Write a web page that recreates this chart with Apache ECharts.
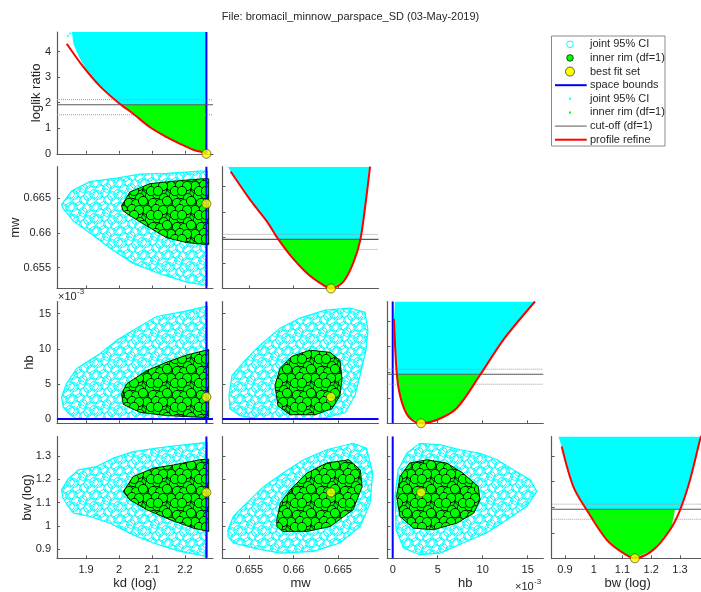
<!DOCTYPE html>
<html><head><meta charset="utf-8">
<script src="https://cdn.jsdelivr.net/npm/echarts@6/dist/echarts.min.js"></script>
<style>html,body{margin:0;padding:0;background:#fff}#c{width:701px;height:592px}</style>
</head><body><div id="c"></div><script>
// ---------------- data ----------------
const titleText = 'File: bromacil_minnow_parspace_SD (03-May-2019)';
const varLabels = {kd:'kd (log)', mw:'mw', hb:'hb', bw:'bw (log)', ll:'loglik ratio'};
// hb values are in units of 1e-3 (axis shows x10^-3)
const kdTicks = [1.9, 2.0, 2.1, 2.2];
const mwTicks = [0.655, 0.66, 0.665];
const hbTicks = [0, 5, 10, 15];
const bwTicks = [0.9, 1.0, 1.1, 1.2, 1.3];
const llTicks = [0, 1, 2, 3, 4];
const bestFit = [2.265, 0.6642, 3.15, 1.143];   // kd, mw, hb, bw
const kdBound = 2.265;                           // space bound (upper) on kd
const hbBound = 0;                               // space bound (lower) on hb
const cutoffSolid = [1.92];
const cutoffDotted = [2.12, 1.53];
// profile refine curves [param, loglik ratio]
const profKd = [[1.8415,4.31],[1.892,3.40],[1.942,2.65],[2.0,1.98],[2.043,1.57],[2.094,1.04],[2.145,0.65],[2.185,0.39],[2.225,0.16],[2.255,0.06],[2.265,0]];
const profMw = [[0.6529,4.58],[0.6551,3.47],[0.6570,2.62],[0.6581,2.01],[0.6596,1.31],[0.6615,0.60],[0.6633,0.14],[0.6642,0],[0.6656,0.27],[0.6667,0.99],[0.6675,1.90],[0.66805,3.21],[0.6686,4.77]];
const profHb = [[0.14,4.08],[0.37,2.35],[0.62,1.44],[1.18,0.65],[1.92,0.2],[3.15,0],[4.89,0.13],[7.11,0.59],[9.7,1.89],[12.29,3.27],[15.81,4.77]];
const profBw = [[0.8885,4.38],[0.9289,2.81],[0.9755,1.89],[1.045,0.72],[1.1028,0.2],[1.143,0],[1.207,0.33],[1.265,1.11],[1.300,1.89],[1.3348,3.07],[1.3696,4.64],[1.374,4.8]];
// dense sample regions on the diagonal panels (outlines)
const cyanKdLL = [[1.857,4.77],[2.265,4.77],[2.265,1.92],[2.006,1.92],[1.975,2.25],[1.942,2.65],[1.905,3.2],[1.88,3.75],[1.862,4.3]];
const greenKdLL = [[2.006,1.92],[2.265,1.92],[2.265,0.02],[2.255,0.06],[2.225,0.16],[2.185,0.39],[2.145,0.65],[2.094,1.04],[2.043,1.57]];
const strayKdLL = [[1.845,4.62],[1.852,4.71],[1.866,4.55],[1.872,4.72],[1.88,4.45]];
const cyanMwLL = [[0.6526,4.77],[0.6685,4.77],[0.66805,3.21],[0.6675,1.92],[0.6583,1.92],[0.6581,2.01],[0.6570,2.62],[0.6551,3.47],[0.6529,4.58]];
const greenMwLL = [[0.6583,1.92],[0.6675,1.92],[0.6667,0.99],[0.6656,0.27],[0.6642,0.01],[0.6633,0.14],[0.6615,0.60],[0.6596,1.31]];
const cyanHbLL = [[0.26,4.77],[15.81,4.77],[12.29,3.27],[9.72,1.92],[0.49,1.92],[0.37,2.35],[0.2,3.5],[0.14,4.08]];
const greenHbLL = [[0.49,1.92],[9.72,1.92],[7.11,0.59],[4.89,0.13],[3.15,0.01],[1.92,0.2],[1.18,0.65],[0.62,1.44]];
const cyanBwLL = [[0.877,4.77],[1.373,4.77],[1.3348,3.07],[1.300,1.92],[0.9755,1.92],[0.9289,2.81],[0.8885,4.38]];
const greenBwLL = [[0.9755,1.92],[1.283,1.92],[1.270,1.2],[1.265,1.11],[1.207,0.33],[1.143,0.01],[1.1028,0.2],[1.045,0.72]];
// joint 95% CI (cyan) and inner rim (green) sample clouds, outlines [x, y]
const cyanKdMw = [[1.826,0.6641],[1.857,0.6661],[1.912,0.6674],[1.993,0.6679],[2.064,0.6685],[2.145,0.6686],[2.245,0.6689],[2.268,0.6689],[2.268,0.6524],[2.205,0.6529],[2.124,0.6541],[2.043,0.6556],[1.973,0.6578],[1.912,0.6600],[1.862,0.6617],[1.831,0.6635]];
const greenKdMw = [[2.008,0.6639],[2.033,0.6659],[2.094,0.6671],[2.175,0.6675],[2.256,0.6678],[2.272,0.6678],[2.272,0.6583],[2.205,0.6586],[2.145,0.6593],[2.084,0.6610],[2.033,0.6625],[2.012,0.6632]];
const cyanKdHb = [[1.826,3.1],[1.84,5.0],[1.872,7.2],[1.942,9.3],[1.993,11.2],[2.043,12.65],[2.114,14.6],[2.195,15.3],[2.261,16.0],[2.268,16.0],[2.268,0],[1.872,0],[1.845,0.9],[1.831,1.7]];
const greenKdHb = [[2.008,3.6],[2.023,5.0],[2.084,6.9],[2.145,8.1],[2.205,9.1],[2.272,9.9],[2.272,0.2],[2.145,0.5],[2.064,0.95],[2.013,2.1]];
const cyanKdBw = [[1.826,1.154],[1.845,1.20],[1.877,1.240],[1.932,1.254],[1.983,1.290],[2.043,1.318],[2.114,1.333],[2.195,1.347],[2.261,1.357],[2.268,1.357],[2.268,0.868],[2.185,0.890],[2.104,0.926],[2.043,0.961],[1.973,1.011],[1.912,1.040],[1.862,1.054],[1.846,1.083],[1.83,1.12]];
const greenKdBw = [[2.013,1.147],[2.043,1.211],[2.104,1.247],[2.165,1.261],[2.245,1.283],[2.272,1.286],[2.272,0.976],[2.225,0.990],[2.155,1.026],[2.084,1.069],[2.033,1.111]];
const cyanMwHb = [[0.65271,3.34],[0.65305,6.2],[0.65452,8.35],[0.6562,10.5],[0.65846,12.94],[0.66071,14.37],[0.66353,15.5],[0.66634,15.8],[0.66803,15.2],[0.66837,12.6],[0.66814,9.8],[0.66747,6.2],[0.6669,3.34],[0.66578,0.9],[0.66296,0.04],[0.6562,0.04],[0.65395,0.47],[0.65282,1.48]];
const greenMwHb = [[0.65789,4.77],[0.65846,7.2],[0.65981,8.94],[0.66184,9.8],[0.66409,9.5],[0.66521,8.35],[0.66544,5.77],[0.66521,3.34],[0.66431,1.48],[0.6624,0.62],[0.65958,0.62],[0.65823,1.9]];
const cyanMwBw = [[0.6526,0.983],[0.6532,1.040],[0.6547,1.097],[0.6566,1.168],[0.6588,1.226],[0.6611,1.283],[0.6637,1.326],[0.6667,1.354],[0.6682,1.333],[0.6689,1.226],[0.6686,1.097],[0.6675,0.997],[0.6652,0.926],[0.6622,0.890],[0.6585,0.883],[0.6555,0.904],[0.6532,0.926],[0.6526,0.954]];
const greenMwBw = [[0.6581,1.026],[0.6585,1.097],[0.6596,1.154],[0.6615,1.226],[0.6637,1.269],[0.6662,1.283],[0.6675,1.240],[0.6677,1.168],[0.6667,1.069],[0.6641,0.997],[0.6615,0.976],[0.6588,0.976],[0.6581,0.997]];
const cyanHbBw = [[0.26,1.126],[0.6,1.240],[1.55,1.311],[3.0,1.354],[5.3,1.347],[7.5,1.326],[9.7,1.311],[11.6,1.283],[13.4,1.240],[15.3,1.197],[16.0,1.147],[14.9,1.083],[12.7,1.026],[10.4,0.969],[7.8,0.926],[5.3,0.883],[3.0,0.876],[1.2,0.904],[0.37,0.983]];
const greenHbBw = [[0.44,1.126],[0.81,1.211],[1.9,1.269],[3.8,1.283],[6.0,1.269],[7.8,1.226],[9.5,1.168],[9.7,1.111],[9.0,1.054],[7.1,1.011],[4.5,0.983],[2.3,0.990],[0.81,1.040]];
const legendLabels = ['joint 95% CI','inner rim (df=1)','best fit set','space bounds','joint 95% CI','inner rim (df=1)','cut-off (df=1)','profile refine'];

// ---------------- layout / style ----------------
const FONT = 'Liberation Sans, Arial, Helvetica, sans-serif';
const TXT = '#262626', AX = '#5a5a5a';
const colLeft = [57, 222.5, 387.3, 551.7], colW = [156, 156, 156, 152];
const rowTop = [32, 166.7, 301.5, 436.5], rowH = 121.8;
const lims = {kd:[1.812,2.285], mw:[0.65198,0.66955], hb:[-0.6,16.73], bwX:[0.8537,1.3824], bwY:[0.8605,1.383], ll:[0,4.77]};
const ticks = {kd:kdTicks, mw:mwTicks, hb:hbTicks, bw:bwTicks, ll:llTicks};
const yNameGap = [14.5, 35, 21, 23.5];
const panels = [
  {r:0,c:0,x:'kd',y:'ll'},
  {r:1,c:0,x:'kd',y:'mw'},{r:1,c:1,x:'mw',y:'ll'},
  {r:2,c:0,x:'kd',y:'hb'},{r:2,c:1,x:'mw',y:'hb'},{r:2,c:2,x:'hb',y:'ll'},
  {r:3,c:0,x:'kd',y:'bw'},{r:3,c:1,x:'mw',y:'bw'},{r:3,c:2,x:'hb',y:'bw'},{r:3,c:3,x:'bw',y:'ll'}
];
const fmt = v => String(+(+v).toFixed(6));

// marker textures for the dense sample clouds (circle marker glyph layout in a tile)
const tileCenters = [[2,3],[9,1],[16,4],[22,2],[5,9],[12,8],[19,10],[1,15],[8,14],[15,16],[22,15],[4,21],[11,20],[18,22]];
const tileCentersDense = tileCenters.concat([[6,4],[13,2],[20,6],[9,11],[16,12],[23,9],[3,18],[12,17],[19,18],[7,23],[14,23]]);
function makePattern(size, centers, r, fill, stroke, lw) {
  const c = document.createElement('canvas'); c.width = size; c.height = size;
  const g = c.getContext('2d');
  for (const [cx, cy] of centers) for (const dx of [-size,0,size]) for (const dy of [-size,0,size]) {
    g.beginPath(); g.arc(cx+dx, cy+dy, r, 0, 2*Math.PI);
    if (fill) { g.fillStyle = fill; g.fill(); }
    g.lineWidth = lw; g.strokeStyle = stroke; g.stroke();
  }
  return c;
}
const cyanPat = makePattern(24, tileCenters, 4.3, null, '#00ffff', 1);
const greenPat = makePattern(24, tileCentersDense, 4.6, '#00ff00', '#002000', 1);

function axis(v, dir, i, showLabel, name, gap) {
  const lim = v === 'bw' ? (dir === 'x' ? lims.bwX : lims.bwY) : lims[v];
  return {
    type:'value', gridIndex:i, min:lim[0], max:lim[1], position: dir==='x'?'bottom':'left',
    name: name, nameLocation:'middle', nameGap: gap, nameMoveOverlap:false,
    nameTextStyle:{fontFamily:FONT, fontSize:13, color:TXT},
    axisLine:{show:true, onZero:false, lineStyle:{color:AX, width:1.2}},
    axisTick:{show:true, inside:true, length:3, customValues:ticks[v], lineStyle:{color:AX, width:1}},
    axisLabel:{show:showLabel, customValues:ticks[v], formatter:fmt, fontFamily:FONT, fontSize:11, color:TXT, margin:6},
    splitLine:{show:false}
  };
}

function region(i, pts, kind, z) {
  return {type:'custom', xAxisIndex:i, yAxisIndex:i, data:pts, z:z, silent:true, clip:true,
    renderItem: function(params, api) {
      if (params.dataIndex !== 0) return null;
      const p = pts.map(d => api.coord(d));
      if (kind === 'cyanSolid') return {type:'polygon', shape:{points:p}, style:{fill:'#00ffff'}};
      if (kind === 'greenSolid') return {type:'polygon', shape:{points:p}, style:{fill:'#00ff00'}};
      if (kind === 'cyanCloud') return {type:'polygon', shape:{points:p}, style:{fill:{image:cyanPat, repeat:'repeat'}, stroke:'#00ffff', lineWidth:1.2}};
      return {type:'group', children:[
        {type:'polygon', shape:{points:p}, style:{fill:'#00d800'}},
        {type:'polygon', shape:{points:p}, style:{fill:{image:greenPat, repeat:'repeat'}, stroke:'#002000', lineWidth:1}}
      ]};
    }};
}
function line(i, pts, color, width, type, z, smooth) {
  return {type:'line', xAxisIndex:i, yAxisIndex:i, data:pts, symbol:'none', silent:true, clip:false, z:z,
    smooth: smooth || false, lineStyle:{color:color, width:width, type:type || 'solid'}};
}
function dot(i, pt) {
  return {type:'scatter', xAxisIndex:i, yAxisIndex:i, data:[pt], symbol:'circle', symbolSize:9, z:10, clip:false, silent:true,
    itemStyle:{color:'#ffff00', borderColor:'#3a3a00', borderWidth:0.8}};
}

const option = {animation:false, backgroundColor:'#fff',
  title:{text:titleText, left:'center', top:6, textStyle:{fontFamily:FONT, fontSize:11, fontWeight:'normal', color:TXT}},
  grid:[], xAxis:[], yAxis:[], series:[], graphic:[]};

panels.forEach((p, i) => {
  option.grid.push({left:colLeft[p.c], top:rowTop[p.r], width:colW[p.c], height:rowH, containLabel:false, outerBoundsMode:'none'});
  option.xAxis.push(axis(p.x, 'x', i, p.r === 3, p.r === 3 ? varLabels[p.x] : '', 19));
  option.yAxis.push(axis(p.y, 'y', i, p.c === 0, p.c === 0 ? varLabels[p.y] : '', yNameGap[p.r]));
});

const S = option.series;
const [bKd, bMw, bHb, bBw] = bestFit;
const vline = (i, x, ylim) => line(i, [[x, ylim[0]], [x, ylim[1]]], '#0000ff', 2, 'solid', 6);
const hline = (i, y, xlim) => line(i, [[xlim[0], y], [xlim[1], y]], '#0000ff', 2, 'solid', 6);
function cutoffs(i, xlim) {
  cutoffDotted.forEach(c => S.push(line(i, [[xlim[0], c], [xlim[1], c]], '#9a9a9a', 1, 'dotted', 7)));
  cutoffSolid.forEach(c => S.push(line(i, [[xlim[0], c], [xlim[1], c]], '#5a5a5a', 1.2, 'solid', 7)));
}
// diagonal panels
S.push(region(0, cyanKdLL, 'cyanSolid', 1), region(0, greenKdLL, 'greenSolid', 2));
S.push({type:'scatter', xAxisIndex:0, yAxisIndex:0, data:strayKdLL, symbol:'rect', symbolSize:2, itemStyle:{color:'#00ffff'}, silent:true, z:2});
cutoffs(0, lims.kd); S.push(vline(0, kdBound, lims.ll), line(0, profKd, '#ff0000', 2, 'solid', 8, 0.3), dot(0, [bKd, 0]));
S.push(region(2, cyanMwLL, 'cyanSolid', 1), region(2, greenMwLL, 'greenSolid', 2));
cutoffs(2, lims.mw); S.push(line(2, profMw, '#ff0000', 2, 'solid', 8, 0.3), dot(2, [bMw, 0]));
S.push(region(5, cyanHbLL, 'cyanSolid', 1), region(5, greenHbLL, 'greenSolid', 2));
cutoffs(5, lims.hb); S.push(vline(5, hbBound, lims.ll), line(5, profHb, '#ff0000', 2, 'solid', 8, 0.3), dot(5, [bHb, 0]));
S.push(region(9, cyanBwLL, 'cyanSolid', 1), region(9, greenBwLL, 'greenSolid', 2));
cutoffs(9, lims.bwX); S.push(line(9, profBw, '#ff0000', 2, 'solid', 8, 0.3), dot(9, [bBw, 0]));
// off-diagonal clouds
S.push(region(1, cyanKdMw, 'cyanCloud', 1), region(1, greenKdMw, 'greenCloud', 2), vline(1, kdBound, lims.mw), dot(1, [bKd, bMw]));
S.push(region(3, cyanKdHb, 'cyanCloud', 1), region(3, greenKdHb, 'greenCloud', 2), vline(3, kdBound, lims.hb), hline(3, hbBound, lims.kd), dot(3, [bKd, bHb]));
S.push(region(4, cyanMwHb, 'cyanCloud', 1), region(4, greenMwHb, 'greenCloud', 2), hline(4, hbBound, lims.mw), dot(4, [bMw, bHb]));
S.push(region(6, cyanKdBw, 'cyanCloud', 1), region(6, greenKdBw, 'greenCloud', 2), vline(6, kdBound, lims.bwY), dot(6, [bKd, bBw]));
S.push(region(7, cyanMwBw, 'cyanCloud', 1), region(7, greenMwBw, 'greenCloud', 2), dot(7, [bMw, bBw]));
S.push(region(8, cyanHbBw, 'cyanCloud', 1), region(8, greenHbBw, 'greenCloud', 2), vline(8, hbBound, lims.bwY), dot(8, [bHb, bBw]));

// exponent labels
const G = option.graphic;
const tstyle = (x, y, text, size, align) => ({type:'text', x:x, y:y, silent:true, z:50,
  style:{text:text, fontFamily:FONT, fontSize:size, fill:TXT, align:align||'left', verticalAlign:'middle'}});
G.push(tstyle(515, 587, '\u00d710', 11), tstyle(534, 581.5, '-3', 8));
G.push(tstyle(58, 297, '\u00d710', 11), tstyle(77, 291.5, '-3', 8));
// legend box
const lgX = 551.5, lgY = 36, lgW = 113.5, lgH = 110, lgStep = 13.63, lgY0 = 44.3, mx = 570, lx1 = 555, lx2 = 586.7, tx = 590;
G.push({type:'rect', silent:true, z:40, shape:{x:lgX, y:lgY, width:lgW, height:lgH}, style:{fill:'#fff', stroke:'#8a8a8a', lineWidth:1}});
legendLabels.forEach((lab, k) => {
  const y = lgY0 + k * lgStep;
  G.push(tstyle(tx, y, lab, 11));
  let el;
  if (k === 0) el = {type:'circle', shape:{cx:mx, cy:y, r:3.3}, style:{fill:'#fff', stroke:'#00ffff', lineWidth:1}};
  else if (k === 1) el = {type:'circle', shape:{cx:mx, cy:y, r:3.3}, style:{fill:'#00ff00', stroke:'#0a2a00', lineWidth:0.8}};
  else if (k === 2) el = {type:'circle', shape:{cx:mx, cy:y, r:4.5}, style:{fill:'#ffff00', stroke:'#3a3a00', lineWidth:0.8}};
  else if (k === 3) el = {type:'line', shape:{x1:lx1, y1:y, x2:lx2, y2:y}, style:{stroke:'#0000ff', lineWidth:2}};
  else if (k === 4) el = {type:'rect', shape:{x:mx-1, y:y-1, width:2, height:2}, style:{fill:'#00ffff'}};
  else if (k === 5) el = {type:'rect', shape:{x:mx-1, y:y-1, width:2, height:2}, style:{fill:'#00ff00'}};
  else if (k === 6) el = {type:'line', shape:{x1:lx1, y1:y, x2:lx2, y2:y}, style:{stroke:'#5a5a5a', lineWidth:1}};
  else el = {type:'line', shape:{x1:lx1, y1:y, x2:lx2, y2:y}, style:{stroke:'#ff0000', lineWidth:2}};
  el.silent = true; el.z = 45; G.push(el);
});

const chart = echarts.init(document.getElementById('c'), null, {renderer:'canvas'});
chart.setOption(option);
</script></body></html>
